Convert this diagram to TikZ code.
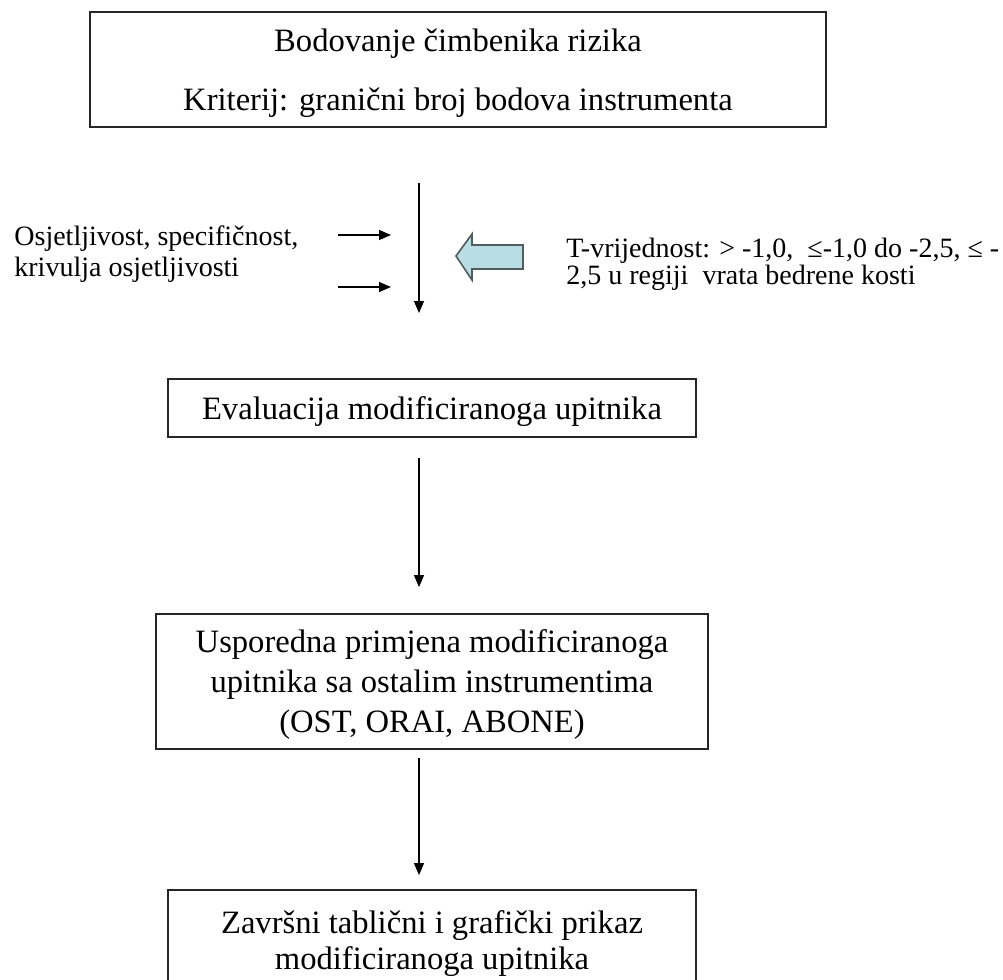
\documentclass[tikz,border=0pt]{standalone}
\usepackage{fontspec}
\setmainfont{Liberation Serif}
\usetikzlibrary{arrows.meta,positioning}

\definecolor{strelica}{RGB}{184,221,226}
\definecolor{rubstrelice}{RGB}{80,92,94}

\begin{document}
\begin{tikzpicture}[x=0.5pt,y=-0.5pt,
  korak/.style={
  % The shape:
  rectangle,
  % The border:
  draw=black!85, line width=0.9pt,
  inner sep=0pt,
  align=center,
  % tekst malo nize u okviru
  text depth=-1.5pt,
  % Font
  font=\fontsize{16.3}{20}\selectfont
  },
  opis/.style={
  inner sep=0pt, anchor=west, align=left,
  font=\fontsize{14}{15.5}\selectfont
  },
  tok/.style={-{Triangle[length=6pt,width=5pt]}, line width=0.6pt},
  blok/.style={fill=strelica, draw=rubstrelice, line width=0.8pt, line join=miter}
  ]
  \useasboundingbox (0,0) rectangle (1003,980);

  \node (bod) [korak,minimum width=368pt,minimum height=57.5pt,
    font=\fontsize{16.3}{29.5}\selectfont] at (458,69.5)
    {Bodovanje čimbenika rizika\\Kriterij: granični broj bodova instrumenta};

  % okomita os s ulazima
  \coordinate (osA) at (419,183);
  \coordinate (osB) at (419,313);
  \draw[tok] (osA) to (osB);

  \node (osj) [opis] at (14,254) {Osjetljivost, specifičnost,\\krivulja osjetljivosti};
  \coordinate (u1) at (338,235);
  \coordinate (u2) at (338,287);
  \draw[tok] (u1) to (u1 -| 391,0);
  \draw[tok] (u2) to (u2 -| 391,0);

  \node (tvr) [opis,font=\fontsize{14}{13.5}\selectfont] at (566,264)
    {T-vrijednost: > -1,0,\ \ ≤-1,0 do -2,5, ≤ -\\2,5 u regiji\ \ vrata bedrene kosti};
  \coordinate (vrh) at (456,256);
  \draw[blok] (vrh) -- ++(16,-22) -- ++(0,11) -- ++(51,0) -- ++(0,24)
    -- ++(-51,0) -- ++(0,11) -- cycle;

  \node (evl) [korak,minimum width=264pt,minimum height=29pt] at (432,408)
    {Evaluacija modificiranoga upitnika};
  \node (usp) [korak,minimum width=276pt,minimum height=67.5pt] at (432,681.5)
    {Usporedna primjena modificiranoga\\upitnika sa ostalim instrumentima\\(OST, ORAI, ABONE)};
  \node (zav) [korak,minimum width=264pt,minimum height=50pt,
    font=\fontsize{16.3}{18}\selectfont] at (432,940)
    {Završni tablični i grafički prikaz\\modificiranoga upitnika};

  \draw[tok] ([yshift=-10pt]evl.south -| osA) to ([yshift=13pt]usp.north -| osA);
  \draw[tok] ([yshift=-4pt]usp.south -| osA) to ([yshift=7pt]zav.north -| osA);
\end{tikzpicture}
\end{document}
